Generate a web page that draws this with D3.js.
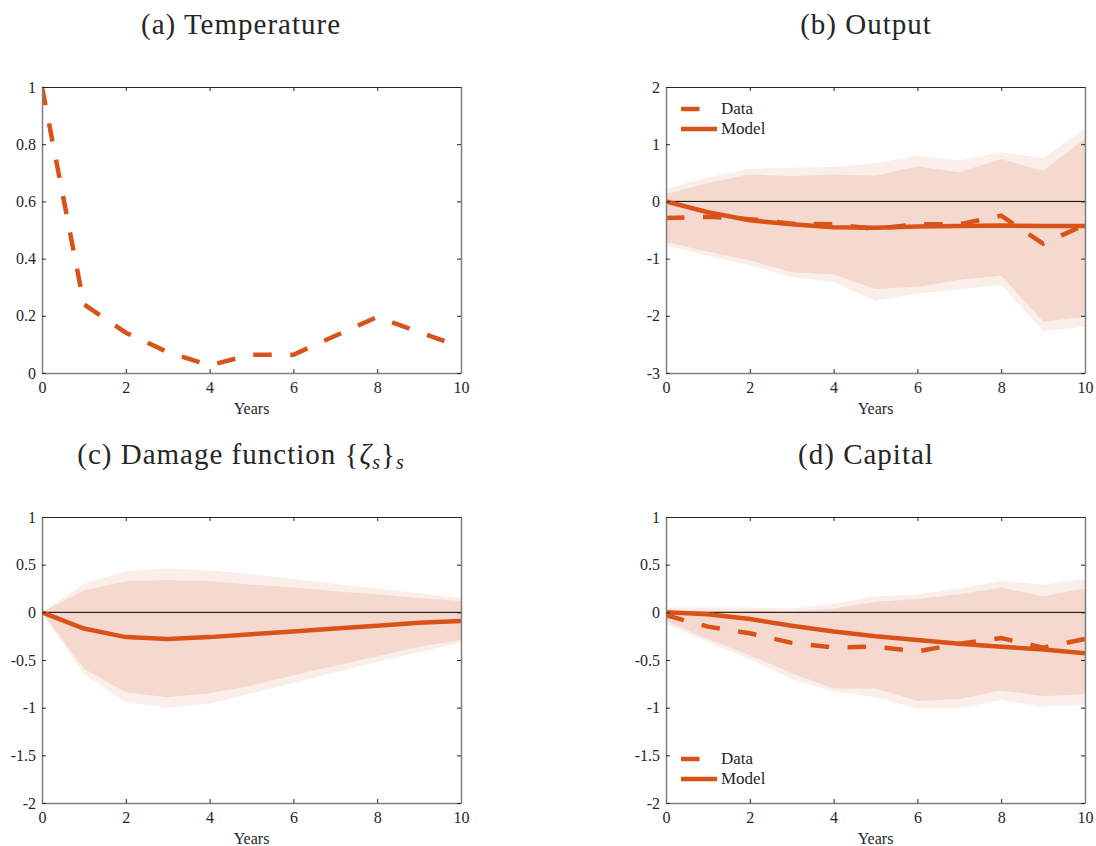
<!DOCTYPE html>
<html>
<head>
<meta charset="utf-8">
<script src="https://cdn.jsdelivr.net/npm/d3@7"></script>
<style>
  html, body { margin: 0; padding: 0; background: #fff; }
  svg { display: block; }
  text { font-family: "Liberation Serif", "DejaVu Serif", serif; fill: #262626; }
</style>
</head>
<body>
<svg id="chart" width="1096" height="846"></svg>
<script>
// ---------- data ----------
const years = [0, 1, 2, 3, 4, 5, 6, 7, 8, 9, 10];
const xTicks = [0, 2, 4, 6, 8, 10];

// (a) Temperature
const tempData = [1.0, 0.24, 0.141, 0.073, 0.027, 0.064, 0.064, 0.13, 0.196, 0.143, 0.091];
const tempTicks = [0, 0.2, 0.4, 0.6, 0.8, 1];

// (b) Output
const outputData  = [-0.29, -0.27, -0.31, -0.39, -0.40, -0.48, -0.40, -0.40, -0.25, -0.74, -0.41];
const outputModel = [0, -0.19, -0.33, -0.40, -0.45, -0.46, -0.44, -0.43, -0.42, -0.43, -0.43];
const outputInnerUpper = [0.13, 0.32, 0.47, 0.44, 0.47, 0.45, 0.61, 0.51, 0.74, 0.53, 1.1];
const outputInnerLower = [-0.71, -0.88, -1.03, -1.24, -1.28, -1.53, -1.49, -1.37, -1.30, -2.10, -2.02];
const outputOuterUpper = [0.22, 0.42, 0.57, 0.59, 0.60, 0.67, 0.80, 0.72, 0.86, 0.76, 1.27];
const outputOuterLower = [-0.77, -0.95, -1.11, -1.32, -1.41, -1.74, -1.61, -1.54, -1.46, -2.27, -2.19];
const outputTicks = [-3, -2, -1, 0, 1, 2];

// (c) Damage function
const damageModel = [0, -0.17, -0.26, -0.28, -0.26, -0.23, -0.20, -0.17, -0.14, -0.11, -0.09];
const damageInnerUpper = [0, 0.23, 0.325, 0.34, 0.325, 0.29, 0.26, 0.22, 0.19, 0.15, 0.12];
const damageOuterUpper = [0, 0.30, 0.43, 0.46, 0.44, 0.40, 0.35, 0.30, 0.25, 0.20, 0.15];
const damageInnerLower = [0, -0.59, -0.84, -0.89, -0.85, -0.77, -0.66, -0.56, -0.46, -0.36, -0.29];
const damageOuterLower = [0, -0.65, -0.94, -1.0, -0.96, -0.85, -0.74, -0.63, -0.52, -0.42, -0.32];
const smallTicks = [-2, -1.5, -1, -0.5, 0, 0.5, 1];

// (d) Capital
const capitalData  = [-0.03, -0.15, -0.22, -0.32, -0.37, -0.36, -0.41, -0.33, -0.27, -0.37, -0.28];
const capitalModel = [0, -0.02, -0.07, -0.14, -0.20, -0.25, -0.29, -0.33, -0.36, -0.39, -0.43];
const capitalInnerUpper = [0.02, 0.02, 0.02, 0.01, 0.04, 0.11, 0.14, 0.19, 0.26, 0.17, 0.25];
const capitalOuterUpper = [0.05, 0.05, 0.05, 0.04, 0.09, 0.17, 0.19, 0.25, 0.33, 0.29, 0.35];
const capitalInnerLower = [-0.09, -0.28, -0.45, -0.64, -0.80, -0.80, -0.93, -0.91, -0.82, -0.88, -0.86];
const capitalOuterLower = [-0.12, -0.31, -0.49, -0.70, -0.83, -0.89, -1.01, -1.01, -0.92, -0.99, -0.97];

// ---------- style ----------
const ORANGE = "#D95319";
const INNER = "#F5D9CE";
const OUTER = "#FAEEE9";
const LW = 4.5;
const DASH = "18.5,18.5";

const svg = d3.select("#chart");

function fmt(v) { return String(v).replace("−", "-"); }

function panel(opts) {
  const { x0, x1, y0, y1, yDomain, yTicks } = opts;
  const g = svg.append("g");
  const x = d3.scaleLinear().domain([0, 10]).range([x0, x1]);
  const y = d3.scaleLinear().domain(yDomain).range([y1, y0]);

  // bands
  const area = (lo, hi) => d3.area().x((d, i) => x(years[i])).y0((d, i) => y(lo[i])).y1((d, i) => y(hi[i]));
  if (opts.outer) {
    g.append("path").datum(years).attr("d", area(opts.outer[0], opts.outer[1])).attr("fill", OUTER);
  }
  if (opts.inner) {
    g.append("path").datum(years).attr("d", area(opts.inner[0], opts.inner[1])).attr("fill", INNER);
  }
  if (opts.zero) {
    g.append("line").attr("x1", x(0)).attr("x2", x(10)).attr("y1", y(0)).attr("y2", y(0))
      .attr("stroke", "#000").attr("stroke-width", 1);
  }

  const line = d3.line().x((d, i) => x(years[i])).y(d => y(d));
  const clipId = "clip" + Math.round(x0) + "_" + Math.round(y0);
  svg.append("clipPath").attr("id", clipId).append("rect")
    .attr("x", x0).attr("y", y0 - 3).attr("width", x1 - x0).attr("height", y1 - y0 + 6);

  if (opts.model) {
    g.append("path").datum(opts.model).attr("d", line).attr("fill", "none")
      .attr("stroke", ORANGE).attr("stroke-width", LW).attr("stroke-linejoin", "round")
      .attr("clip-path", `url(#${clipId})`);
  }
  if (opts.data) {
    g.append("path").datum(opts.data).attr("d", line).attr("fill", "none")
      .attr("stroke", ORANGE).attr("stroke-width", LW).attr("stroke-dasharray", DASH)
      .attr("stroke-linecap", "butt").attr("clip-path", `url(#${clipId})`);
  }

  // axes using d3 axis generators
  const tickLen = 4;
  const bottom = g.append("g").attr("transform", `translate(0,${y1})`)
    .call(d3.axisBottom(x).tickValues(xTicks).tickSizeInner(-tickLen).tickSizeOuter(0).tickPadding(9).tickFormat(d3.format("d")));
  const top = g.append("g").attr("transform", `translate(0,${y0})`)
    .call(d3.axisTop(x).tickValues(xTicks).tickSizeInner(-tickLen).tickSizeOuter(0).tickFormat(""));
  const left = g.append("g").attr("transform", `translate(${x0},0)`)
    .call(d3.axisLeft(y).tickValues(yTicks).tickSizeInner(-tickLen).tickSizeOuter(0).tickPadding(6).tickFormat(fmt));
  const right = g.append("g").attr("transform", `translate(${x1},0)`)
    .call(d3.axisRight(y).tickValues(yTicks).tickSizeInner(-tickLen).tickSizeOuter(0).tickFormat(""));

  [bottom, top, left, right].forEach(a => {
    a.selectAll("text").style("font-family", '"Liberation Serif", serif').style("font-size", "16px").attr("fill", "#262626");
    a.selectAll(".tick line").attr("stroke", "#262626").attr("stroke-width", 1);
  });
  bottom.select(".domain").attr("stroke", "#808080").attr("stroke-width", 1.5);
  left.select(".domain").attr("stroke", "#808080").attr("stroke-width", 1.5);
  right.select(".domain").attr("stroke", "#808080").attr("stroke-width", 1.5);
  top.select(".domain").attr("stroke", "#262626").attr("stroke-width", 1);

  // x label
  g.append("text").attr("x", (x0 + x1) / 2).attr("y", y1 + 41).attr("text-anchor", "middle")
    .style("font-size", "16px").text("Years");

  // title
  const t = g.append("text").attr("x", opts.titleX).attr("y", opts.titleY).attr("text-anchor", "middle")
    .style("font-size", "29px").style("letter-spacing", "1px");
  opts.title(t);

  // legend
  if (opts.legendY !== undefined) {
    const lx = x0 + 15;
    const ly = opts.legendY;
    g.append("line").attr("x1", lx).attr("x2", lx + 36).attr("y1", ly).attr("y2", ly)
      .attr("stroke", ORANGE).attr("stroke-width", LW).attr("stroke-dasharray", DASH);
    g.append("text").attr("x", lx + 40).attr("y", ly + 5).style("font-size", "17px").text("Data");
    g.append("line").attr("x1", lx).attr("x2", lx + 36).attr("y1", ly + 20).attr("y2", ly + 20)
      .attr("stroke", ORANGE).attr("stroke-width", LW);
    g.append("text").attr("x", lx + 40).attr("y", ly + 25).style("font-size", "17px").text("Model");
  }
}

panel({
  x0: 42, x1: 461, y0: 87, y1: 373, yDomain: [0, 1], yTicks: tempTicks,
  data: tempData, titleX: 241, titleY: 34,
  title: t => t.text("(a) Temperature")
});

panel({
  x0: 666, x1: 1085, y0: 87, y1: 373, yDomain: [-3, 2], yTicks: outputTicks,
  data: outputData, model: outputModel, zero: true,
  inner: [outputInnerLower, outputInnerUpper], outer: [outputOuterLower, outputOuterUpper],
  titleX: 866, titleY: 34, legendY: 109,
  title: t => t.text("(b) Output")
});

panel({
  x0: 42, x1: 461, y0: 517, y1: 803, yDomain: [-2, 1], yTicks: smallTicks,
  model: damageModel, zero: true,
  inner: [damageInnerLower, damageInnerUpper], outer: [damageOuterLower, damageOuterUpper],
  titleX: 241, titleY: 464,
  title: t => {
    t.append("tspan").text("(c) Damage function {");
    t.append("tspan").style("font-style", "italic").text("ζ");
    t.append("tspan").style("font-style", "italic").style("font-size", "20px").attr("dy", 5).text("s");
    t.append("tspan").attr("dy", -5).text("}");
    t.append("tspan").style("font-style", "italic").style("font-size", "20px").attr("dy", 5).text("s");
  }
});

panel({
  x0: 666, x1: 1085, y0: 517, y1: 803, yDomain: [-2, 1], yTicks: smallTicks,
  data: capitalData, model: capitalModel, zero: true,
  inner: [capitalInnerLower, capitalInnerUpper], outer: [capitalOuterLower, capitalOuterUpper],
  titleX: 866, titleY: 464, legendY: 759,
  title: t => t.text("(d) Capital")
});
</script>
</body>
</html>
